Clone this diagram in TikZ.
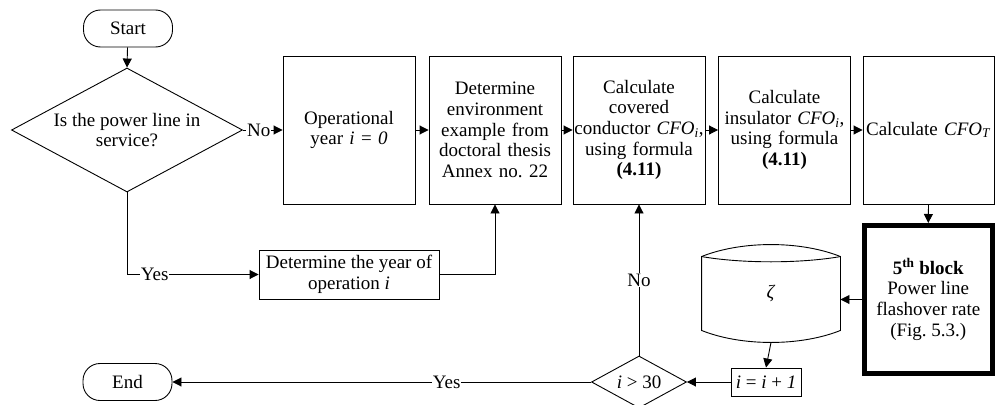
\documentclass[tikz,border=0pt]{standalone}
\usepackage{fontspec}
\setmainfont{Liberation Serif}
\usetikzlibrary{shapes.geometric,arrows.meta,calc}
\begin{document}
\begin{tikzpicture}[x=1pt,y=-1pt,
  font=\fontsize{19}{20.7}\selectfont,
  line width=0.9pt,
  arr/.style={-{Triangle[length=9pt,width=9pt]}},
  term/.style={draw,rounded corners=17pt,minimum width=89pt,minimum height=37pt,inner sep=0pt},
  bigbox/.style={draw,minimum width=132pt,minimum height=148pt,inner sep=0pt,align=center,text width=131pt},
  smallbox/.style={draw,inner sep=0pt,align=center},
  dec/.style={draw,diamond,inner sep=0pt},
  lbl/.style={fill=white,inner sep=1pt}]
\useasboundingbox (0,0) rectangle (995,404);

\node[term] (start) at (128,28.5) {Start};
\node[dec,minimum width=231pt,minimum height=124pt] (q1) at (127,130) {};
\node[align=center] at (q1) {Is the power line in\\service?};

\node[bigbox] (b1) at (349,130) {Operational\\year \textit{i} = \textit{0}};
\node[bigbox] (b2) at (495,130) {Determine\\environment\\example from\\doctoral thesis\\Annex no.\ 22};
\node[bigbox] (b3) at (639,130) {Calculate\\covered\\conductor \textit{CFO}\textsubscript{\textit{i}},\\using formula\\\textbf{(4.11)}};
\node[bigbox] (b4) at (784.5,130) {Calculate\\insulator \textit{CFO}\textsubscript{\textit{i}},\\using formula\\\textbf{(4.11)}};
\node[bigbox,minimum width=131pt] (b5) at (928.5,130) {Calculate \textit{CFO}\textsubscript{\textit{T}}};

\node[draw,line width=5pt,minimum width=127.5pt,minimum height=148pt,inner sep=0pt,align=center] (blk) at (928.25,299.5)
  {\textbf{5\textsuperscript{th} block}\\Power line\\flashover rate\\(Fig.\ 5.3.)};

\node[smallbox,minimum width=180pt,minimum height=49pt] (yb) at (349,274.5) {Determine the year of\\operation \textit{i}};

% cylinder
\node[minimum width=138pt,minimum height=97pt,inner sep=0pt] (cyl) at (771,293.5) {\textit{ζ}};
\coordinate (cnw) at ($(cyl.north west)+(0,12)$);
\coordinate (cne) at ($(cyl.north east)+(0,12)$);
\coordinate (csw) at ($(cyl.south west)+(0,-12)$);
\coordinate (cse) at ($(cyl.south east)+(0,-12)$);
\draw (cnw) .. controls ($(cnw)+(40,-16)$) and ($(cne)+(-40,-16)$) .. (cne) -- (cse)
      .. controls ($(cse)+(-40,16)$) and ($(csw)+(40,16)$) .. (csw) -- cycle;
\draw (cnw) .. controls ($(cnw)+(40,7)$) and ($(cne)+(-40,7)$) .. (cne);

\node[smallbox,minimum width=70pt,minimum height=28pt] (inc) at (766,382) {\textit{i} = \textit{i} + \textit{1}};
\node[dec,minimum width=95pt,minimum height=52pt] (q2) at (639,382) {};
\node at (q2) {\textit{i} > 30};

\node[term] (end) at (127.5,382) {End};

% connectors
\draw[arr] (start) -- (q1.north);
\draw[arr] (q1.east) -- node[lbl,pos=0.4] {No} (b1.west);
\draw[arr] (b1) -- (b2);
\draw[arr] (b2) -- (b3);
\draw[arr] (b3) -- (b4);
\draw[arr] (b4) -- (b5);
\draw[arr] (q1.south) |- node[lbl,pos=0.605] {Yes} (yb.west);
\draw[arr] (yb.east) -| (b2.south);
\draw[arr] (b5.south) -- (blk.north);
\draw[arr] (blk.west) -- (blk.west -| cyl.east);
\draw[arr] (cyl.south) -- (inc.north);
\draw[arr] (inc.west) -- (q2.east);
\draw[arr] (q2.north) -- node[lbl,pos=0.5] {No} (b3.south);
\draw[arr] (q2.west) -- node[lbl,pos=0.345] {Yes} (end.east);
\end{tikzpicture}
\end{document}
